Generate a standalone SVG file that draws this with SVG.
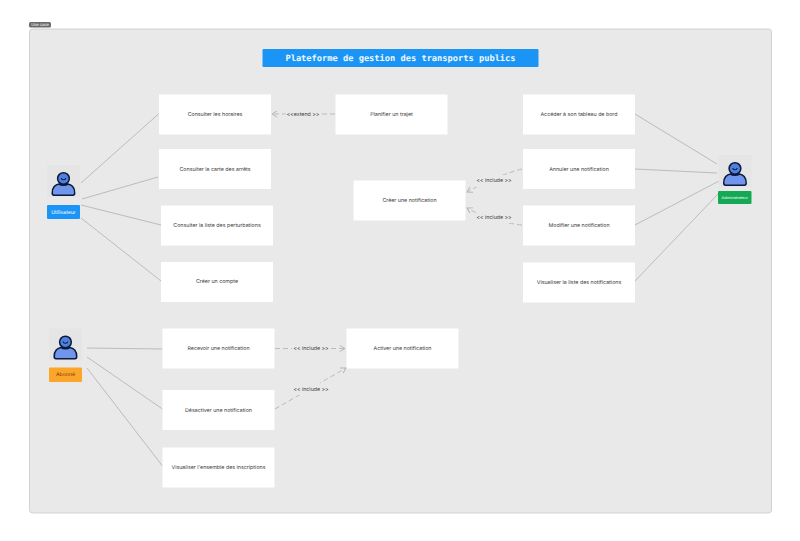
<svg xmlns="http://www.w3.org/2000/svg" width="800" height="541" viewBox="0 0 800 541">
<style>
text{font-family:Inter,"Liberation Sans",sans-serif;text-anchor:middle;dominant-baseline:central;text-rendering:geometricPrecision}
.n{fill:#fff}
.t{font-size:5.300px;fill:#3a3a3a}
.l{font-size:5.300px;fill:#3a3a3a}
.c{fill:none;stroke:#bcbcbc;stroke-width:1}
.d{fill:none;stroke:#bcbcbc;stroke-width:1;stroke-dasharray:5 3}
.bg{fill:#e9e9e9}
</style>
<defs>
<marker id="arrow" viewBox="0 0 8 8" refX="7" refY="4" markerWidth="7" markerHeight="7" markerUnits="userSpaceOnUse" orient="auto"><path d="M1 0.5L7 4L1 7.5" fill="none" stroke="#b5b5b5" stroke-width="1.100"/></marker>
<g id="person">
<rect x="-16.500" y="-16" width="33" height="32" fill="#e5e5e5"/>
<g transform="translate(-0.500,2) scale(0.900)">
<path d="M-12 11.500C-12.500 5 -8 1.500 -4.500 1C-2.500 3 3.500 3 5.500 1C9 1.500 13.500 5 13 11.500C13 13 12 13.500 11 13.500L-10 13.500C-11 13.500 -12 13 -12 11.500Z" fill="#6f96ec" stroke="#0b1a3a" stroke-width="1.700" stroke-linejoin="round"/>
<circle cx="0.500" cy="-5" r="6.500" fill="#4f7fdf" stroke="#0b1a3a" stroke-width="1.700"/>
<path d="M-2 -5.500C-1.800 -3 2.800 -3 3 -5.500" fill="none" stroke="#0b1a3a" stroke-width="1.200"/>
</g>
</g>
</defs>
<rect width="800" height="541" fill="#fff"/>
<rect x="29.500" y="29" width="742" height="484" rx="3" fill="#e9e9e9" stroke="#c9c9c9" stroke-width="0.800"/>
<g id="frame-label"><rect x="29" y="22" width="22" height="5.500" rx="1.500" fill="#6b6b6b"/><text x="40" y="24.800" font-size="4" fill="#fff">Use case</text></g>
<g id="title"><rect x="262.500" y="49" width="276" height="18" rx="1" fill="#1a95f5"/><text x="400.500" y="58.800" style="font-family:'DejaVu Sans Mono','Liberation Mono',monospace;font-size:8.700px;font-weight:bold" fill="#f2f8ff">Plateforme de gestion des transports publics</text></g>

<g id="connectors">
<path class="c" d="M81 183L158.500 114"/>
<path class="c" d="M82 199L158 177"/>
<path class="c" d="M81 205L161 225"/>
<path class="c" d="M81 218L161 281"/>
<path class="c" d="M87 348L162.500 349"/>
<path class="c" d="M87 357L162.500 409"/>
<path class="c" d="M87 368L162.500 466"/>
<path class="c" d="M635 114L717 164"/>
<path class="c" d="M635 169L717 173"/>
<path class="c" d="M635 225L719 181"/>
<path class="c" d="M635 281L719 193"/>
<path class="d" d="M335 114L272 114" marker-end="url(#arrow)"/>
<path class="d" d="M522 169Q498 175 467 192" marker-end="url(#arrow)"/>
<path class="d" d="M522 225Q492 222 467 208" marker-end="url(#arrow)"/>
<path class="d" d="M275 348.500L345 348.500" marker-end="url(#arrow)"/>
<path class="d" d="M275 409L346 368" marker-end="url(#arrow)"/>
<g id="connector-labels">
<rect class="bg" x="286" y="108" width="35" height="12"/><text class="l" x="303" y="114.800">&lt;&lt;extend &gt;&gt;</text>
<rect class="bg" x="476" y="175" width="37" height="12"/><text class="l" x="494" y="181.300">&lt;&lt; include &gt;&gt;</text>
<rect class="bg" x="476" y="211" width="37" height="12"/><text class="l" x="494" y="217.800">&lt;&lt; include &gt;&gt;</text>
<rect class="bg" x="292" y="343" width="37" height="12"/><text class="l" x="311" y="349.300">&lt;&lt; include &gt;&gt;</text>
<rect class="bg" x="292" y="383" width="37" height="12"/><text class="l" x="311" y="389.800">&lt;&lt; include &gt;&gt;</text>
</g>
</g>

<g id="n1"><rect class="n" x="159" y="94.500" width="112" height="40"/><text class="t" x="215" y="114.800">Consulter les horaires</text></g>
<g id="n2"><rect class="n" x="159" y="149" width="112" height="40"/><text class="t" x="215" y="169.500">Consulter la carte des arrêts</text></g>
<g id="n3"><rect class="n" x="161" y="205.500" width="112" height="40"/><text class="t" x="217" y="225.800">Consulter la liste des perturbations</text></g>
<g id="n4"><rect class="n" x="161" y="262" width="112" height="40"/><text class="t" x="217" y="282">Créer un compte</text></g>
<g id="n5"><rect class="n" x="335.500" y="94.500" width="112" height="40"/><text class="t" x="391.500" y="114.800">Planifier un trajet</text></g>
<g id="n6"><rect class="n" x="353.500" y="180.500" width="112" height="40"/><text class="t" x="409.500" y="201">Créer une notification</text></g>
<g id="n7"><rect class="n" x="523" y="94.500" width="112" height="40"/><text class="t" x="579" y="114.800">Accéder à son tableau de bord</text></g>
<g id="n8"><rect class="n" x="523" y="149" width="112" height="40"/><text class="t" x="579" y="169.500">Annuler une notification</text></g>
<g id="n9"><rect class="n" x="523" y="205.500" width="112" height="40"/><text class="t" x="579" y="226">Modifier une notification</text></g>
<g id="n10"><rect class="n" x="523" y="262.500" width="112" height="40"/><text class="t" x="579" y="283">Visualiser la liste des notifications</text></g>
<g id="n11"><rect class="n" x="162.500" y="328.500" width="112" height="40"/><text class="t" x="218.500" y="349">Recevoir une notification</text></g>
<g id="n12"><rect class="n" x="162.500" y="390" width="112" height="40"/><text class="t" x="218.500" y="410.500">Désactiver une notification</text></g>
<g id="n13"><rect class="n" x="162.500" y="447.500" width="112" height="40"/><text class="t" x="218.500" y="468">Visualiser l'ensemble des inscriptions</text></g>
<g id="n14"><rect class="n" x="346.500" y="328.500" width="112" height="40"/><text class="t" x="402.500" y="349">Activer une notification</text></g>

<g id="actor-utilisateur"><use href="#person" x="63.500" y="181"/><rect x="47" y="205" width="33" height="14" rx="1" fill="#1a95f5"/><text x="63.500" y="212.500" font-size="5.200" fill="#fff">Utilisateur</text></g>
<g id="actor-abonne"><use href="#person" x="65.500" y="344.500"/><rect x="49" y="367.500" width="33" height="14.500" rx="1" fill="#fba52b"/><text x="65.500" y="375" font-size="5.200" fill="#6b3a00">Abonné</text></g>
<g id="actor-administrateur"><use href="#person" x="735" y="171"/><rect x="718" y="191" width="33.500" height="13" rx="1" fill="#14aa55"/><text x="734.700" y="197.700" font-size="3.800" fill="#fff">Administrateur</text></g>
</svg>
